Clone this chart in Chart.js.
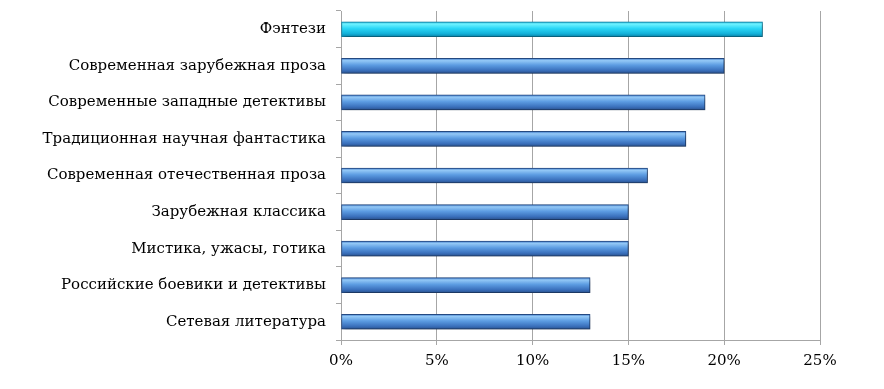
<!DOCTYPE html>
<html>
<head>
<meta charset="utf-8">
<script src="https://cdn.jsdelivr.net/npm/chart.js@4/dist/chart.umd.min.js"></script>
<style>
  html, body { margin: 0; padding: 0; background: #fff; }
  #wrap { width: 884px; height: 389px; }
</style>
</head>
<body>
<div id="wrap"><canvas id="chart"></canvas></div>
<script>
const genres = [
  'Фэнтези',
  'Современная зарубежная проза',
  'Современные западные детективы',
  'Традиционная научная фантастика',
  'Современная отечественная проза',
  'Зарубежная классика',
  'Мистика, ужасы, готика',
  'Российские боевики и детективы',
  'Сетевая литература'
];
const shares = [22, 20, 19, 18, 16, 15, 15, 13, 13];
const xTicks = [0, 5, 10, 15, 20, 25];

const FONT = '"DejaVu Serif", "Liberation Serif", serif';
const BAR_H = 15;

/* vertical gradient for one bar */
function barFill(ctx) {
  const first = ctx.dataIndex === 0;
  const flat = first ? '#2ad6f6' : '#5c9ce2';
  const chart = ctx.chart;
  const y = chart.scales.y;
  if (!y || ctx.dataIndex === undefined) return flat;
  const cy = y.getPixelForValue(ctx.dataIndex);
  if (!isFinite(cy)) return flat;
  const g = chart.ctx.createLinearGradient(0, cy - BAR_H / 2, 0, cy + BAR_H / 2);
  if (first) {
    g.addColorStop(0, '#2bb8dc');
    g.addColorStop(0.15, '#6ff2ff');
    g.addColorStop(0.45, '#2ad6f6');
    g.addColorStop(0.8, '#12b0d8');
    g.addColorStop(1, '#0a7fa6');
  } else {
    g.addColorStop(0, '#3d78c8');
    g.addColorStop(0.15, '#93c8f6');
    g.addColorStop(0.45, '#5c9ce2');
    g.addColorStop(0.8, '#3a70bc');
    g.addColorStop(1, '#2a528e');
  }
  return g;
}

const shadow = {
  id: 'shadow',
  beforeDatasetDraw(chart) {
    const c = chart.ctx;
    c.save();
    c.shadowColor = 'rgba(0,0,0,0.35)';
    c.shadowBlur = 4;
    c.shadowOffsetX = 2;
    c.shadowOffsetY = 2;
  },
  afterDatasetDraw(chart) {
    chart.ctx.restore();
  }
};

new Chart(document.getElementById('chart'), {
  type: 'bar',
  data: {
    labels: genres,
    datasets: [{
      data: shares,
      backgroundColor: barFill,
      borderColor: (ctx) => ctx.dataIndex === 0 ? '#0b86aa' : '#264c86',
      borderWidth: 1,
      borderSkipped: false,
      barThickness: BAR_H
    }]
  },
  plugins: [shadow],
  options: {
    indexAxis: 'y',
    responsive: true,
    maintainAspectRatio: false,
    animation: false,
    layout: { padding: { top: 11, right: 64, bottom: 0, left: 0 } },
    plugins: {
      legend: { display: false },
      tooltip: { enabled: false }
    },
    scales: {
      x: {
        min: 0,
        max: 25,
        afterBuildTicks: (s) => { s.ticks = xTicks.map(v => ({ value: v })); },
        afterFit: (s) => { s.height = 49; },
        grid: { color: '#a6a6a6', lineWidth: 1, tickLength: 5 },
        border: { color: '#a6a6a6' },
        ticks: {
          color: '#000',
          padding: 7,
          font: { family: FONT, size: 15 },
          callback: (v) => v + '%'
        }
      },
      y: {
        afterFit: (s) => { s.width = 341; s.paddingTop = 0; s.paddingBottom = 0; },
        grid: { drawOnChartArea: false, color: '#a6a6a6', tickLength: 5, offset: true },
        border: { color: '#a6a6a6' },
        ticks: {
          color: '#000',
          padding: 10,
          autoSkip: false,
          font: { family: FONT, size: 15 }
        }
      }
    }
  }
});
</script>
</body>
</html>
